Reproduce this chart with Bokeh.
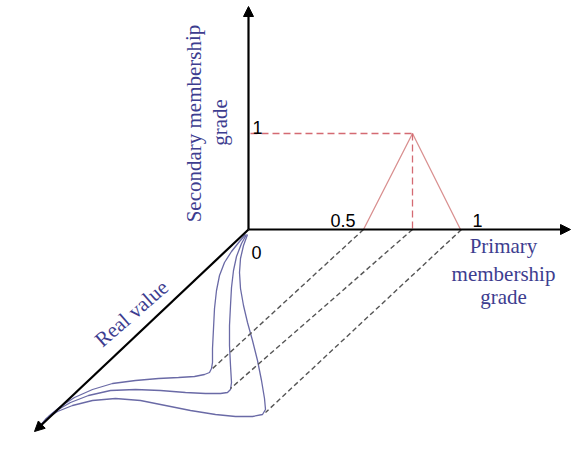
from bokeh.plotting import figure
from bokeh.models import Range1d, Arrow, NormalHead, ColumnDataSource
from bokeh.core.properties import value
from bokeh.embed import file_html
from bokeh.resources import INLINE
import math

# ---- diagram data (diagram-plane units, y measured downward) ----
origin = (248, 229)
axis_ends = {"secondary": (248, 6), "primary": (570, 229), "real": (34, 431)}

# primary membership grades on the primary axis (0.5, peak, 1)
tri_x = [363, 412, 460]
tri_y = [229, 133, 229]
peak_level_x = [250, 412]
peak_level_y = [133, 133]
peak_drop_x = [412, 412]
peak_drop_y = [133, 229]

# projections of the primary grades back along the real-value axis
proj_x0 = [363, 412, 461]
proj_y0 = [229, 229, 229]
proj_x1 = [211, 230, 265]
proj_y1 = [369, 388, 412]

# footprint curves (lower, principal, upper)
c1_x = [245, 239, 231, 224, 219, 216, 214, 213, 212, 212, 211, 209, 204, 194, 178, 158, 135, 112, 92, 74, 60, 49, 41]
c1_y = [234, 241, 251, 262, 275, 290, 308, 328, 348, 362, 368, 372, 374, 376, 377, 378, 380, 383, 389, 397, 406, 415, 424]
c2_x = [246, 241, 236, 233, 231, 230, 229, 229, 230, 231, 230, 227, 220, 205, 185, 160, 135, 110, 88, 70, 56, 46, 40]
c2_y = [234, 243, 256, 270, 287, 305, 325, 345, 365, 382, 389, 392, 393, 393, 392, 390, 389, 390, 395, 402, 410, 418, 425]
c3_x = [247, 243, 240, 239, 240, 243, 247, 252, 257, 261, 264, 265, 262, 252, 235, 215, 190, 165, 140, 115, 92, 72, 57, 46, 40]
c3_y = [234, 245, 258, 272, 288, 305, 322, 340, 360, 380, 398, 409, 414, 416, 416, 414, 410, 405, 400, 398, 400, 405, 411, 418, 425]

tick_labels = ["1", "0.5", "1", "0"]
tick_x = [252, 355, 472, 251]
tick_y = [127, 220, 220, 252]
tick_align = ["left", "right", "left", "left"]

title_texts = ["Secondary membership", "grade", "Primary", "membership", "grade", "Real value"]
title_x = [193, 219, 503, 503, 503, 131]
title_y = [123, 122, 245, 273, 296, 313]
title_angle_deg = [90, 90, 0, 0, 0, 41]
title_baseline = ["middle", "middle", "alphabetic", "alphabetic", "alphabetic", "alphabetic"]

AX = "#000000"
RED = "#d46a72"
TRI = "#d99090"
GRAY = "#555555"
BLUE = "#6a6aa6"
TXT = "#3d3d8f"

p = figure(width=572, height=456, x_range=Range1d(0, 572), y_range=Range1d(456, 0),
           output_backend="svg", toolbar_location=None, min_border=0,
           x_axis_type=None, y_axis_type=None)
p.grid.visible = False
p.outline_line_color = None
p.background_fill_color = "white"
p.border_fill_color = "white"

# curves
for cx, cy in [(c1_x, c1_y), (c2_x, c2_y), (c3_x, c3_y)]:
    p.line(cx, cy, line_color=BLUE, line_width=1.3)

# projection dashed lines
p.segment(x0=proj_x0, y0=proj_y0, x1=proj_x1, y1=proj_y1, line_color=GRAY,
          line_width=1.4, line_dash="5 3")

# secondary MF triangle
p.line(tri_x, tri_y, line_color=TRI, line_width=1.3)
p.line(peak_level_x, peak_level_y, line_color=RED, line_width=1.3, line_dash="7 4")
p.line(peak_drop_x, peak_drop_y, line_color=RED, line_width=1.3, line_dash="7 4")

# axes
for key in ["secondary", "primary", "real"]:
    ex, ey = axis_ends[key]
    p.add_layout(Arrow(end=NormalHead(size=10, fill_color=AX, line_color=AX),
                       x_start=origin[0], y_start=origin[1], x_end=ex, y_end=ey,
                       line_color=AX, line_width=2.2))

# tick labels
src_t = ColumnDataSource(dict(x=tick_x, y=tick_y, t=tick_labels, a=tick_align))
p.text(x="x", y="y", text="t", text_align="a", source=src_t,
       text_font=value("Liberation Sans"), text_font_size="18px",
       text_color="black", text_baseline="alphabetic")

# titles
src_a = ColumnDataSource(dict(x=title_x, y=title_y, t=title_texts,
                              ang=[math.radians(a) for a in title_angle_deg],
                              b=title_baseline))
p.text(x="x", y="y", text="t", angle="ang", text_baseline="b", source=src_a,
       text_align="center", text_font=value("Liberation Serif"),
       text_font_size="21px", text_color=TXT)

open("out.html", "w").write(file_html(p, INLINE))
